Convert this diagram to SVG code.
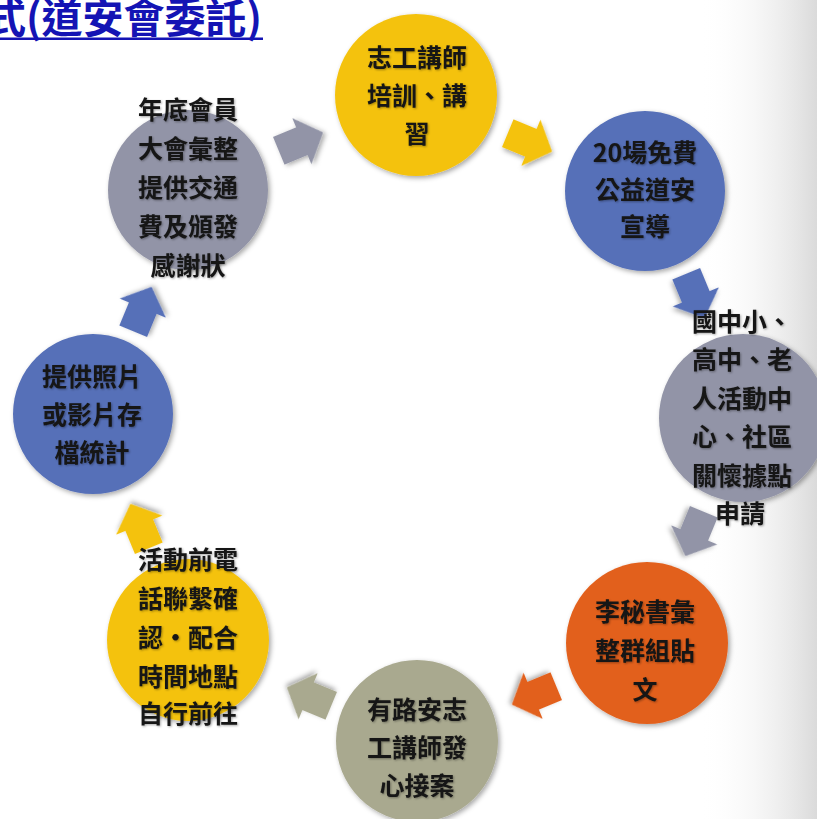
<svg xmlns="http://www.w3.org/2000/svg" width="817" height="819" viewBox="0 0 817 819">
<defs>
<linearGradient id="bg" x1="0" y1="0" x2="1" y2="0">
<stop offset="0" stop-color="#ffffff" stop-opacity="0"/>
<stop offset="1" stop-color="#dadada" stop-opacity="1"/>
</linearGradient>
<filter id="sh" x="-20%" y="-20%" width="140%" height="140%">
<feDropShadow dx="2" dy="2" stdDeviation="2.5" flood-color="#000" flood-opacity="0.35"/>
</filter>
<filter id="tsh" x="-10%" y="-30%" width="120%" height="160%">
<feDropShadow dx="1" dy="1" stdDeviation="1" flood-color="#000" flood-opacity="0.35"/>
</filter>
<polygon id="arr" points="-23,-15 2,-15 2,-25 25,0 2,25 2,15 -23,15"/>
</defs>
<style>
.lbl{font-family:"Noto Sans CJK TC","Noto Sans CJK SC",sans-serif;font-weight:700;font-size:25px;fill:#141414;text-anchor:middle;filter:url(#tsh)}
.c{filter:url(#sh)}
.yel{fill:#F4C20F}
.blu{fill:#5670B8}
.gry{fill:#9294A7}
.org{fill:#E2611F}
.grn{fill:#A9A98F}
.title{font-family:"Noto Sans CJK TC","Noto Sans CJK SC",sans-serif;font-weight:700;font-size:41px;fill:#1414B4}
</style>
<rect width="817" height="819" fill="#ffffff"/>
<rect x="700" y="0" width="117" height="819" fill="url(#bg)"/>
<g id="title">
<text class="title" x="-15" y="33">式(道安會委託)</text>
<rect x="0" y="37.5" width="263" height="2.5" fill="#1414B4"/>
</g>
<g id="connectors">
<use href="#arr" class="gry c" transform="translate(300,142) rotate(-22.5)"/>
<use href="#arr" class="yel c" transform="translate(529,142) rotate(22.5)"/>
<use href="#arr" class="blu c" transform="translate(695,295) rotate(67.5)"/>
<use href="#arr" class="gry c" transform="translate(695,533) rotate(112.5)"/>
<use href="#arr" class="org c" transform="translate(535,695) rotate(157.5)"/>
<use href="#arr" class="grn c" transform="translate(310,697) rotate(202.5)"/>
<use href="#arr" class="yel c" transform="translate(140,527) rotate(247.5)"/>
<use href="#arr" class="blu c" transform="translate(142,310) rotate(292.5)"/>
</g>
<g id="n1">
<circle class="yel c" cx="416" cy="95" r="81"/>
<text class="lbl" x="417" y="67">志工講師</text>
<text class="lbl" x="417" y="105">培訓、講</text>
<text class="lbl" x="417" y="143">習</text>
</g>
<g id="n2">
<circle class="blu c" cx="645" cy="191" r="80"/>
<text class="lbl" x="645" y="162">20場免費</text>
<text class="lbl" x="645" y="199">公益道安</text>
<text class="lbl" x="645" y="236">宣導</text>
</g>
<g id="n3">
<circle class="gry c" cx="743" cy="418" r="84"/>
<text class="lbl" x="742" y="331">國中小、</text>
<text class="lbl" x="742" y="369">高中、老</text>
<text class="lbl" x="742" y="408">人活動中</text>
<text class="lbl" x="742" y="446">心、社區</text>
<text class="lbl" x="742" y="485">關懷據點</text>
<text class="lbl" x="740" y="523">申請</text>
</g>
<g id="n4">
<circle class="org c" cx="647" cy="643" r="81"/>
<text class="lbl" x="645" y="621">李秘書彙</text>
<text class="lbl" x="645" y="660">整群組貼</text>
<text class="lbl" x="645" y="699">文</text>
</g>
<g id="n5">
<circle class="grn c" cx="417" cy="741" r="81"/>
<text class="lbl" x="417" y="719">有路安志</text>
<text class="lbl" x="417" y="757">工講師發</text>
<text class="lbl" x="417" y="795">心接案</text>
</g>
<g id="n6">
<circle class="yel c" cx="188" cy="640" r="81"/>
<text class="lbl" x="188" y="569">活動前電</text>
<text class="lbl" x="188" y="608">話聯繫確</text>
<text class="lbl" x="188" y="647">認・配合</text>
<text class="lbl" x="188" y="686">時間地點</text>
<text class="lbl" x="188" y="723">自行前往</text>
</g>
<g id="n7">
<circle class="blu c" cx="93" cy="414" r="80"/>
<text class="lbl" x="92" y="386">提供照片</text>
<text class="lbl" x="92" y="424">或影片存</text>
<text class="lbl" x="92" y="462">檔統計</text>
</g>
<g id="n8">
<circle class="gry c" cx="188" cy="190" r="80"/>
<text class="lbl" x="188" y="119">年底會員</text>
<text class="lbl" x="188" y="158">大會彙整</text>
<text class="lbl" x="188" y="197">提供交通</text>
<text class="lbl" x="188" y="236">費及頒發</text>
<text class="lbl" x="188" y="275">感謝狀</text>
</g>
</svg>
